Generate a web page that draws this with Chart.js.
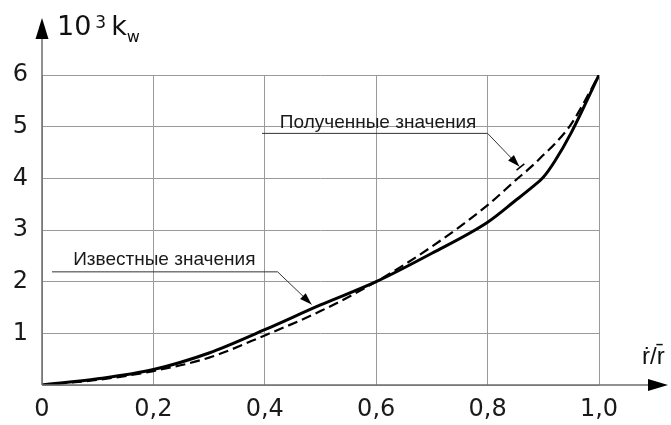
<!DOCTYPE html>
<html>
<head>
<meta charset="utf-8">
<script src="https://cdn.jsdelivr.net/npm/chart.js@4"></script>
<style>
  html, body { margin: 0; padding: 0; background: #fff; }
  #wrap { width: 671px; height: 425px; }
</style>
</head>
<body>
<div id="wrap"><canvas id="js-chart"></canvas></div>
<script>
"use strict";

// ṙ/r̄ values along the x axis
const xValues = [0, 0.1, 0.2, 0.3, 0.4, 0.5, 0.6, 0.7, 0.8, 0.85, 0.88, 0.9, 0.92, 0.95, 1.0];
// 10^3 k_w, solid line (known values)
const knownValues = [0, 0.12, 0.3, 0.62, 1.07, 1.55, 2.0, 2.55, 3.15, 3.57, 3.83, 4.02, 4.32, 4.88, 6.0];
// 10^3 k_w, dashed line (obtained values)
const obtainedValues = [0, 0.1, 0.27, 0.53, 0.96, 1.43, 2.0, 2.68, 3.48, 3.96, 4.24, 4.45, 4.66, 5.05, 6.0];

const xTicks = [0, 0.2, 0.4, 0.6, 0.8, 1.0];
const xTickLabels = ["0", "0,2", "0,4", "0,6", "0,8", "1,0"];
const yTicks = [0, 1, 2, 3, 4, 5, 6];
const yTickLabels = ["", "1", "2", "3", "4", "5", "6"];

const knownLabel = "Известные значения";
const obtainedLabel = "Полученные значения";

const FONT = "'Liberation Sans', Arial, sans-serif";
const WIDE = "'DejaVu Sans', 'Liberation Sans', sans-serif";

function toPoints(ys) {
  return xValues.map(function (x, i) { return { x: x, y: ys[i] }; });
}

function arrowHead(ctx, x1, y1, x2, y2, len, half) {
  const a = Math.atan2(y2 - y1, x2 - x1);
  ctx.beginPath();
  ctx.moveTo(x2, y2);
  ctx.lineTo(x2 - len * Math.cos(a) + half * Math.sin(a), y2 - len * Math.sin(a) - half * Math.cos(a));
  ctx.lineTo(x2 - len * Math.cos(a) - half * Math.sin(a), y2 - len * Math.sin(a) + half * Math.cos(a));
  ctx.closePath();
  ctx.fill();
}

// draws text pieces one after another: [text, font, dy, gapBefore]
function runText(ctx, x, y, parts) {
  parts.forEach(function (p) {
    ctx.font = p[1];
    x += p[3] || 0;
    ctx.fillText(p[0], x, y + p[2]);
    x += ctx.measureText(p[0]).width;
  });
}

// axes with arrows, axis titles and the two callouts
const decor = {
  id: "decor",
  afterDatasetsDraw: function (chart) {
    const ctx = chart.ctx;
    const sx = chart.scales.x;
    const sy = chart.scales.y;
    const px = function (v) { return sx.getPixelForValue(v); };
    const py = function (v) { return sy.getPixelForValue(v); };
    const x0 = px(0), y0 = py(0);

    ctx.save();
    // axis lines
    ctx.strokeStyle = "#6e6e6e";
    ctx.fillStyle = "#000";
    ctx.lineWidth = 1.5;
    ctx.beginPath();
    ctx.moveTo(x0, y0);
    ctx.lineTo(x0, 30);
    ctx.moveTo(x0, y0);
    ctx.lineTo(655, y0);
    ctx.stroke();
    arrowHead(ctx, x0, 60, x0, 18, 21, 6.5);
    arrowHead(ctx, 600, y0, 668, y0, 20, 6);

    // axis titles
    ctx.fillStyle = "#111";
    ctx.textBaseline = "alphabetic";
    ctx.textAlign = "left";
    runText(ctx, 57, 35, [
      ["10", "27px " + WIDE, 0],
      ["3", "17px " + WIDE, -7, 4],
      ["k", "27px " + WIDE, 0, 5],
      ["w", "16px " + WIDE, 7, 0]
    ]);
    ctx.font = "24px " + FONT;
    ctx.fillText("ṙ/r̄", 642, 364);

    // callouts
    ctx.font = "19px " + FONT;
    ctx.fillStyle = "#1a1a1a";
    ctx.fillText(knownLabel, px(0.056), py(2.32));
    ctx.fillText(obtainedLabel, px(0.427), py(4.98));

    ctx.strokeStyle = "#333";
    ctx.lineWidth = 1;
    ctx.beginPath();
    ctx.moveTo(px(0.018), py(2.19));
    ctx.lineTo(px(0.423), py(2.19));
    ctx.lineTo(px(0.484), py(1.56));
    ctx.moveTo(px(0.395), py(4.87));
    ctx.lineTo(px(0.8), py(4.87));
    ctx.lineTo(px(0.857), py(4.23));
    ctx.stroke();
    ctx.fillStyle = "#000";
    arrowHead(ctx, px(0.423), py(2.19), px(0.484), py(1.56), 12, 4);
    arrowHead(ctx, px(0.8), py(4.87), px(0.857), py(4.23), 12, 4);
    // small stop mark at the tip of the upper callout
    ctx.lineWidth = 1.5;
    ctx.strokeStyle = "#000";
    ctx.beginPath();
    ctx.moveTo(px(0.852), py(4.16));
    ctx.lineTo(px(0.866), py(4.28));
    ctx.stroke();
    ctx.restore();
  }
};

const ctx = document.getElementById("js-chart").getContext("2d");
const myChart = new Chart(ctx, {
  type: "line",
  data: {
    datasets: [
      {
        label: knownLabel,
        data: toPoints(knownValues),
        borderColor: "#000",
        borderWidth: 3,
        pointRadius: 0,
        cubicInterpolationMode: "monotone",
        fill: false
      },
      {
        label: obtainedLabel,
        data: toPoints(obtainedValues),
        borderColor: "#000",
        borderWidth: 2.2,
        borderDash: [10, 5],
        pointRadius: 0,
        cubicInterpolationMode: "monotone",
        fill: false
      }
    ]
  },
  options: {
    responsive: true,
    maintainAspectRatio: false,
    animation: false,
    layout: { padding: { left: 0, right: 72, top: 75, bottom: 0 } },
    plugins: {
      legend: { display: false },
      tooltip: { enabled: false }
    },
    scales: {
      x: {
        type: "linear",
        min: 0,
        max: 1,
        afterBuildTicks: function (scale) {
          scale.ticks = xTicks.map(function (v) { return { value: v }; });
        },
        afterFit: function (scale) { scale.height = 40; },
        ticks: {
          autoSkip: false,
          maxRotation: 0,
          padding: 10,
          color: "#1a1a1a",
          font: { family: WIDE, size: 24 },
          callback: function (v, i) { return xTickLabels[i]; }
        },
        grid: { color: "#9a9a9a", lineWidth: 1, drawTicks: false },
        border: { display: false }
      },
      y: {
        type: "linear",
        min: 0,
        max: 6,
        afterBuildTicks: function (scale) {
          scale.ticks = yTicks.map(function (v) { return { value: v }; });
        },
        afterFit: function (scale) { scale.width = 42; },
        ticks: {
          autoSkip: false,
          padding: 14,
          color: "#1a1a1a",
          font: { family: WIDE, size: 24 },
          callback: function (v, i) { return yTickLabels[i]; }
        },
        grid: { color: "#9a9a9a", lineWidth: 1, drawTicks: false },
        border: { display: false }
      }
    }
  },
  plugins: [decor]
});
</script>
</body>
</html>
